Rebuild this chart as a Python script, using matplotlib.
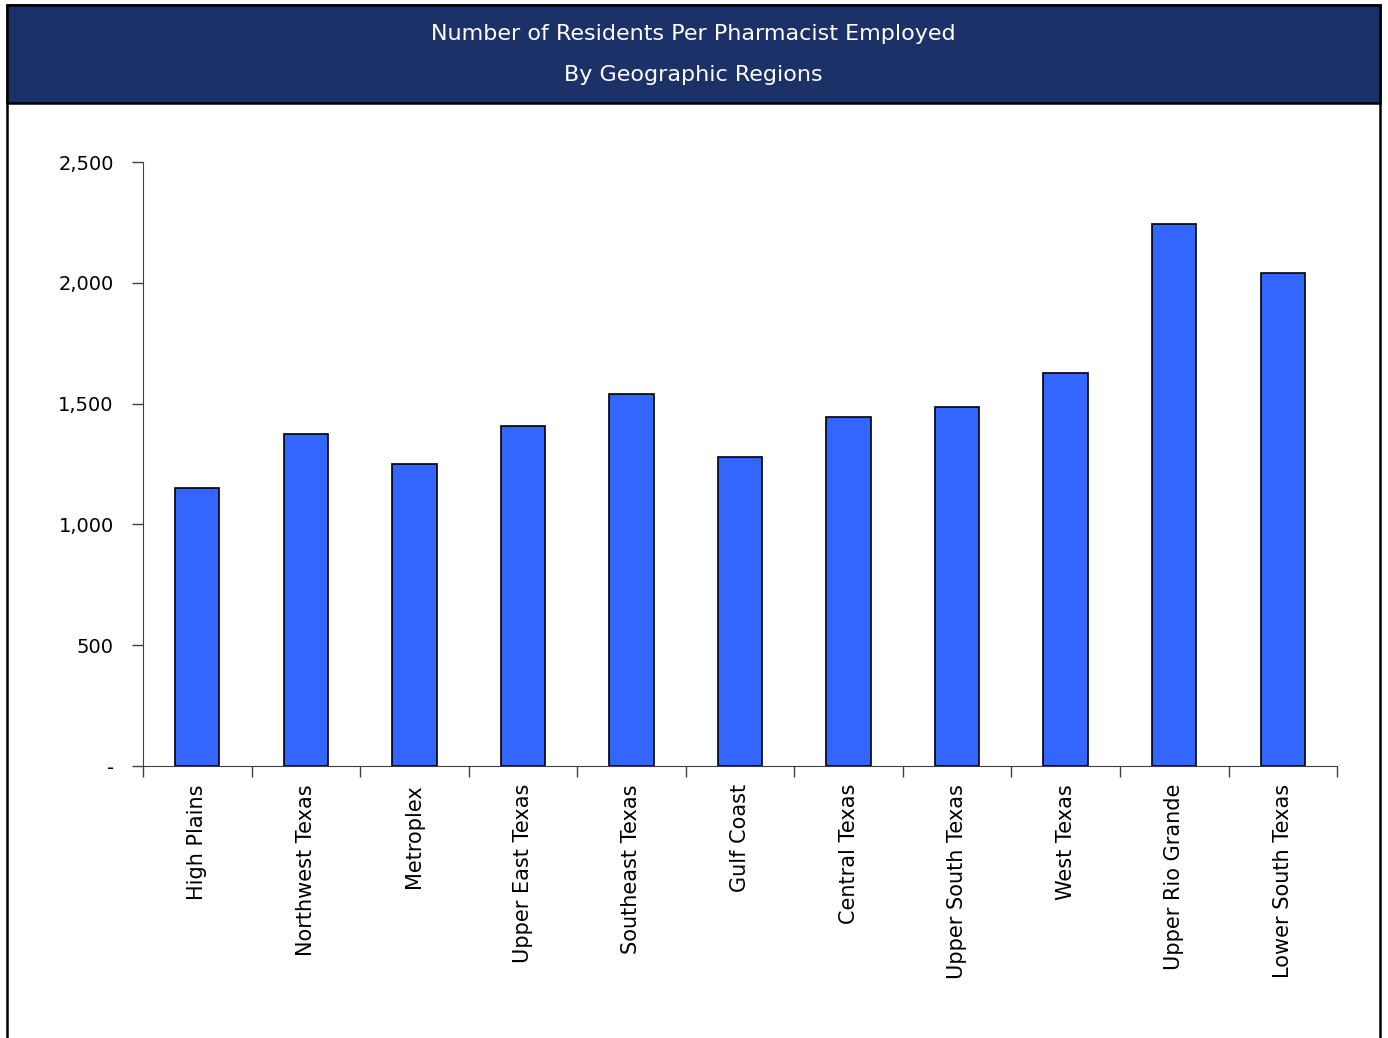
import matplotlib.pyplot as plt
from matplotlib.patches import Rectangle
from matplotlib.ticker import FuncFormatter

regions = ['High Plains', 'Northwest Texas', 'Metroplex', 'Upper East Texas',
           'Southeast Texas', 'Gulf Coast', 'Central Texas', 'Upper South Texas',
           'West Texas', 'Upper Rio Grande', 'Lower South Texas']
residents = [1151, 1374, 1250, 1407, 1540, 1279, 1445, 1486, 1627, 2243, 2041]
y_ticks = [0, 500, 1000, 1500, 2000, 2500]

title1 = 'Number of Residents Per Pharmacist Employed'
title2 = 'By Geographic Regions'

plt.rcParams['font.family'] = ['DejaVu Sans']

fig = plt.figure(figsize=(13.88, 10.38), dpi=100)

# 外枠とヘッダー
fig.patches.append(Rectangle((0.00504, -0.05), 0.9892, 1.04518, transform=fig.transFigure,
                             facecolor='white', edgecolor='black', linewidth=1.8, zorder=0))
fig.patches.append(Rectangle((0.00504, 0.90077), 0.9892, 0.09441, transform=fig.transFigure,
                             facecolor='#1b3168', edgecolor='black', linewidth=1.8, zorder=1))
fig.text(0.4993, 0.9672, title1, color='white', fontsize=16, ha='center', va='center')
fig.text(0.4993, 0.9277, title2, color='white', fontsize=16, ha='center', va='center')

ax = fig.add_axes([0.1030, 0.2620, 0.8603, 0.5819])
ax.set_zorder(5)
ax.patch.set_alpha(0)

x = list(range(len(regions)))
ax.bar(x, residents, width=0.41, color='#3366ff', edgecolor='black', linewidth=1.2, zorder=3)

ax.set_xlim(-0.5, len(regions) - 0.5)
ax.set_ylim(0, 2500)

ax.spines['right'].set_visible(False)
ax.spines['top'].set_visible(False)
ax.spines['left'].set_color('#404040')
ax.spines['bottom'].set_color('#404040')

ax.set_yticks(y_ticks)
ax.yaxis.set_major_formatter(FuncFormatter(lambda v, p: '-' if v == 0 else f'{int(v):,}'))
ax.tick_params(axis='y', direction='out', length=8, width=1, color='#404040',
               pad=13, labelsize=14)

ax.set_xticks(x)
ax.set_xticklabels(regions, rotation=90, fontsize=15, va='top', ha='center')
ax.set_xticks([i - 0.5 for i in range(len(regions) + 1)], minor=True)
ax.tick_params(axis='x', which='major', length=0, pad=13)
ax.tick_params(axis='x', which='minor', direction='out', length=8, width=1, color='#404040')

fig.savefig('out.png', dpi=100)
